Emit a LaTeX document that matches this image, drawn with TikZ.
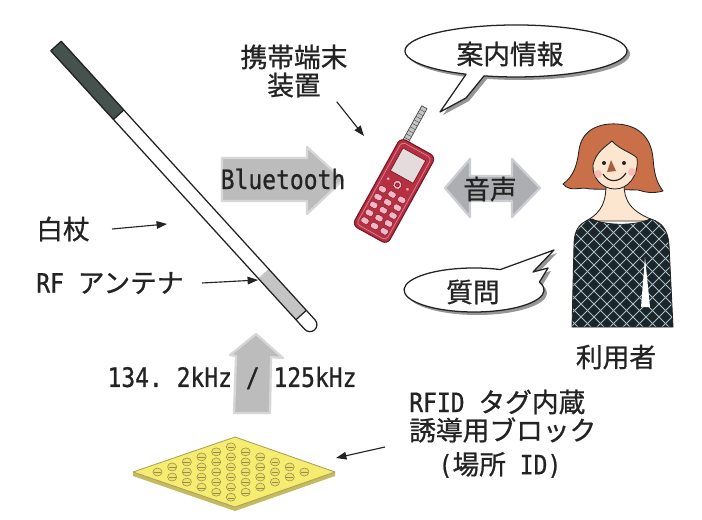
\documentclass[tikz,border=0pt]{standalone}
\usepackage{fontspec}
\newfontfamily\jp[FakeBold=0.8]{Noto Sans CJK JP}
\newfontfamily\lat[FakeStretch=0.86, FakeBold=0.8]{DejaVu Sans Mono}
\usetikzlibrary{arrows.meta}

\definecolor{ink}{RGB}{35,35,35}
\definecolor{arrowgray}{RGB}{188,188,188}
\definecolor{voicegray}{RGB}{172,174,178}
\definecolor{canedark}{RGB}{70,82,78}
\definecolor{antgray}{RGB}{196,196,196}
\definecolor{phonered}{RGB}{182,48,66}
\definecolor{phonedark}{RGB}{118,24,38}
\definecolor{keypink}{RGB}{242,182,196}
\definecolor{screenpale}{RGB}{228,220,220}
\definecolor{hair}{RGB}{202,112,72}
\definecolor{skin}{RGB}{252,230,208}
\definecolor{cheek}{RGB}{246,172,172}
\definecolor{nose}{RGB}{165,95,62}
\definecolor{shirt}{RGB}{28,38,42}
\definecolor{shirtline}{RGB}{168,190,196}
\definecolor{blockyellow}{RGB}{246,236,112}
\definecolor{blockside}{RGB}{196,186,96}
\definecolor{blockedge}{RGB}{170,160,90}
\definecolor{dotyellow}{RGB}{240,226,100}
\definecolor{dotedge}{RGB}{150,140,85}
\definecolor{shadowgray}{RGB}{150,150,150}

% outline of the information speech bubble
\newcommand\infobubble{(466.1,74.2) arc[start angle=116.7, end angle=466.7, x radius=111, y radius=26] -- (466,98) -- (440,112) -- cycle}
% outline of the question speech bubble
\newcommand\askbubble{(539.4,282.1) arc[start angle=-21, end angle=292, x radius=70, y radius=22] -- (554,250) -- (533,272) -- (548,268) -- cycle}
% outline of the user's top
\newcommand\shirtpath{(572,327) -- (574,245) .. controls (574,229) and (580,222) .. (592,219) .. controls (606,226) and (636,226) .. (650,219) .. controls (662,222) and (668,230) .. (669,245) -- (673,327) -- cycle}

\begin{document}
\frenchspacing
\begin{tikzpicture}[x=0.025cm, y=-0.025cm, line join=round,
  lbl/.style={text=ink, inner sep=0pt, font=\jp\fontsize{19}{20}\selectfont},
  ptr/.style={draw=ink, line width=0.8pt, -{Triangle[length=0.26cm,width=0.19cm]}},
  outline/.style={draw=ink, line width=0.9pt},
  softfill/.style={fill=#1, draw=#1!60, line width=1.6pt}]
\useasboundingbox[fill=white] (0,0) rectangle (702,519);

% broad grey signal arrows
\path[softfill=arrowgray] (222,158) -- (307,158) -- (307,147) -- (343,180) -- (307,214) -- (307,201) -- (222,201) -- cycle;
\path[softfill=voicegray] (445,188) -- (470,159) -- (470,176) -- (512,176) -- (512,159) -- (540,188) -- (512,217) -- (512,201) -- (470,201) -- (470,217) -- cycle;
\path[softfill=arrowgray] (234,413) -- (270,413) -- (271,357) -- (283,358) -- (256,334) -- (230,355) -- (236,356) -- cycle;

% white cane with grip, antenna section and tip
\begin{scope}[shift={(56,46)}, rotate=-47.66]
  \fill[white] (0,-7) -- (377,-7) arc[start angle=270, end angle=450, radius=7] -- (0,7) -- cycle;
  \fill[canedark] (0,-7.5) rectangle (93,7.5);
  \fill[antgray] (308,-7) rectangle (364,7);
  \draw[outline] (0,-7) -- (377,-7) arc[start angle=270, end angle=450, radius=7] -- (0,7) -- cycle;
  \draw[outline] (364,-7) -- (364,7);
  \draw[outline] (93,-7) -- (93,7);
\end{scope}

% mobile terminal
\begin{scope}[shift={(394,191)}, rotate=-29]
  \filldraw[fill=antgray, draw=gray!60!black, line width=0.5pt] (-17,-88) rectangle (-11,-49);
  \foreach \s in {-84,-80,...,-52}
    \draw[gray!60!black, line width=0.3pt] (-17,\s) -- (-11,\s);
  \filldraw[fill=phonered, draw=phonedark, line width=0.8pt, rounded corners=0.15cm] (-20,-50) rectangle (20,50);
  \draw[keypink!60!phonered, line width=0.5pt, rounded corners=0.1cm] (-17,-47) rectangle (17,47);
  \filldraw[fill=screenpale, draw=phonedark, line width=0.5pt] (-13,-42) rectangle (13,-16);
  \filldraw[fill=keypink, draw=phonedark, line width=0.4pt] (0,-7) circle (4.5);
  \filldraw[fill=phonered, draw=phonedark, line width=0.4pt] (0,-7) circle (2);
  \fill[keypink] (-11,-8) circle (1.5) (11,-8) circle (1.5);
  \foreach \row in {0,...,4}
    \foreach \col in {-1,0,1}
      \filldraw[fill=keypink, draw=phonedark, line width=0.3pt, rounded corners=0.04cm]
        (\col*11-4,\row*9+1) rectangle (\col*11+4,\row*9+7);
\end{scope}

% user: hair, face, neck and patterned top
\filldraw[fill=hair, draw=ink, line width=0.6pt]
  (590,189) .. controls (580,186) and (571,193) .. (563,184)
  .. controls (574,176) and (577,165) .. (579,150)
  .. controls (582,129) and (600,123) .. (617,124)
  .. controls (638,125) and (651,137) .. (653,158)
  .. controls (654,172) and (656,182) .. (663,191)
  .. controls (652,194) and (645,192) .. (638,190) -- cycle;
\filldraw[fill=skin, draw=ink, line width=0.6pt]
  (606,184) .. controls (606,200) and (603,212) .. (586,221) -- (656,221)
  .. controls (630,212) and (624,200) .. (624,184) -- cycle;
\filldraw[fill=skin, draw=ink, line width=0.6pt]
  (593,165) .. controls (596,152) and (605,147) .. (612,141)
  .. controls (620,150) and (631,152) .. (637,158)
  .. controls (639,176) and (628,189) .. (615,189)
  .. controls (602,189) and (592,178) .. (593,165) -- cycle;
\fill[cheek, opacity=0.7] (598,174) circle (4) (632,172) circle (4);
\fill[ink] (604,163) circle (2) (624,163) circle (2);
\fill[nose] (611,160) -- (607,172) -- (616,171) -- cycle;
\draw[ink, line width=0.8pt] (603,174) .. controls (608,183) and (620,183) .. (626,173);
\begin{scope}
  \clip \shirtpath;
  \fill[shirt] (560,210) rectangle (690,340);
  \foreach \k in {-14,...,14} {
    \draw[shirtline, line width=0.6pt] (620+\k*13,200) -- ++(140,140);
    \draw[shirtline, line width=0.6pt] (620+\k*13,200) -- ++(-140,140);
  }
  \fill[white] (645,257) -- (641,307) -- (650,307) -- cycle;
\end{scope}
\draw[ink, line width=0.6pt] \shirtpath;

% speech bubbles with drop shadows
\begin{scope}[shift={(3,3)}]
  \fill[shadowgray] \infobubble;
  \fill[shadowgray] \askbubble;
\end{scope}
\filldraw[fill=white, outline] \infobubble;
\filldraw[fill=white, outline] \askbubble;

% tactile guide block with embedded RFID tag
\fill[blockside] (133,472) -- (235,507) -- (335,472) -- (335,476) -- (235,511) -- (133,476) -- cycle;
\filldraw[fill=blockyellow, draw=blockedge, line width=0.6pt] (133,472) -- (235,437) -- (335,472) -- (235,507) -- cycle;
\foreach \a in {0,...,5}
  \foreach \b in {0,...,5} {
    \pgfmathsetmacro\dx{133+102*(0.12+0.144*\a)+102*(0.12+0.144*\b)}
    \pgfmathsetmacro\dy{472-35*(0.12+0.144*\a)+35*(0.12+0.144*\b)}
    \filldraw[fill=dotyellow, draw=dotedge, line width=0.4pt] (\dx,\dy) ellipse [x radius=4.6, y radius=4];
    \draw[dotedge, line width=0.3pt] (\dx-3.4,\dy+0.6) -- (\dx+3.4,\dy+0.6);
  }

% labels
\node[lbl] (canelbl) at (63,229) {白杖};
\node[lbl, anchor=west] (rflbl) at (36,283) {{\lat RF\ }アンテナ};
\node[lbl] (btlbl) at (283,179) {\lat Bluetooth};
\node[lbl] (freqlbl) at (232,378) {\lat 134. 2kHz / 125kHz};
\node[lbl, align=center] (phonelbl) at (294,71) {携帯端末\\装置};
\node[lbl] (infotxt) at (510,54) {案内情報};
\node[lbl] (voicetxt) at (490,189) {音声};
\node[lbl] (asktxt) at (473,292) {質問};
\node[lbl] (userlbl) at (616,357) {利用者};
\node[lbl, anchor=west] (rfid1) at (409,402) {{\lat RFID\ }タグ内蔵};
\node[lbl, anchor=west] (rfid2) at (409,430) {誘導用ブロック};
\node[lbl] (rfid3) at (500,465) {{\lat(}場所{\lat\ ID)}};

% pointers
\coordinate (canept) at (167,224);
\coordinate (antpt) at (258,280);
\coordinate (phonept) at (364,136);
\coordinate (blockpt) at (336,458);
\draw[ptr] ([xshift=0.55cm]canelbl.east) -- (canept);
\draw[ptr] ([xshift=0.45cm]rflbl.east) -- (antpt);
\draw[ptr] ([shift={(-11,4)}]phonelbl.south east) -- (phonept);
\draw[ptr] ([shift={(-24,17)}]rfid2.west) -- (blockpt);
\end{tikzpicture}
\end{document}
